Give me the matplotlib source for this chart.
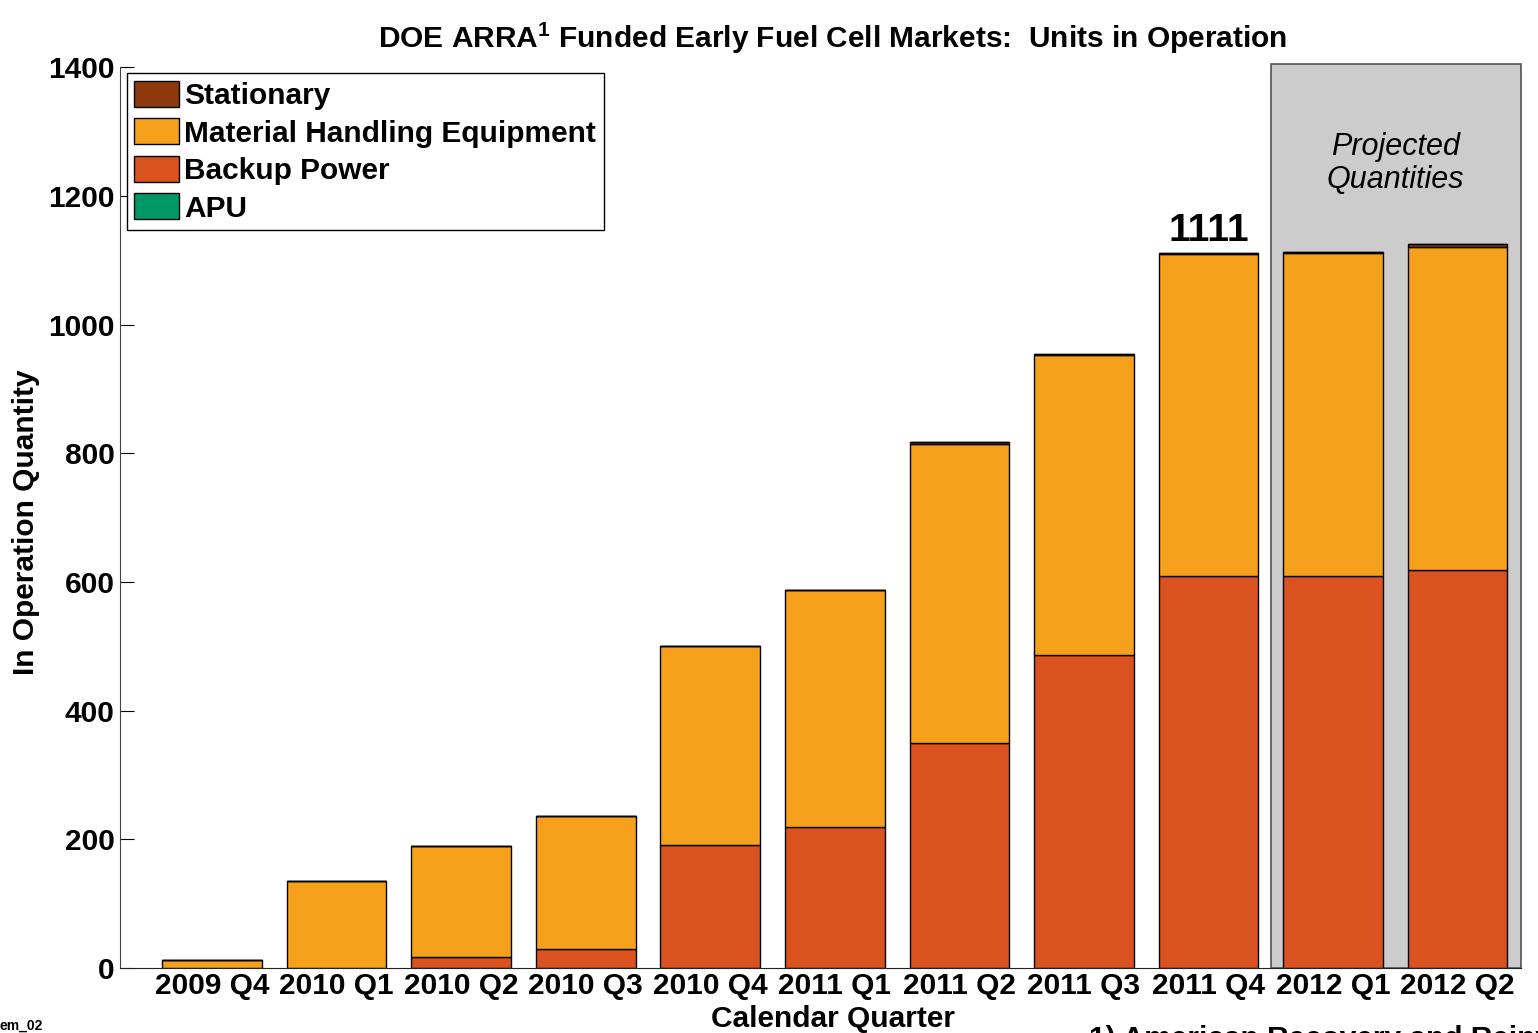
import numpy as np
import matplotlib.pyplot as plt
from matplotlib.patches import Patch, Rectangle

plt.rcParams['font.family'] = ['Liberation Sans', 'DejaVu Sans']
plt.rcParams['mathtext.fontset'] = 'custom'
plt.rcParams['mathtext.rm'] = 'Liberation Sans'
plt.rcParams['mathtext.bf'] = 'Liberation Sans:bold'

# Данные
quarters = ['2009 Q4', '2010 Q1', '2010 Q2', '2010 Q3', '2010 Q4', '2011 Q1',
            '2011 Q2', '2011 Q3', '2011 Q4', '2012 Q1', '2012 Q2']
backup = [0, 0, 17, 30, 191, 219, 350, 486, 609, 609, 618]
mhe = [13, 135, 173, 206, 309, 368, 465, 466, 500, 502, 502]
stationary = [0, 0, 0, 0, 0, 0, 2, 2, 2, 2, 5]
apu = [0, 0, 0, 0, 0, 0, 0, 0, 0, 0, 0]
highlight_idx = 8
highlight_label = '1111'

colors = {'Stationary': '#8c3a0c', 'Material Handling Equipment': '#f5a11c',
          'Backup Power': '#da5220', 'APU': '#009966'}

fs = 21.5

fig = plt.figure(figsize=(15.38, 10.33), dpi=100)
ax = fig.add_axes([0.078, 0.063, 0.911, 0.872])

x = np.arange(len(quarters))
w = 0.8

# Серая область прогноза
ax.add_patch(Rectangle((8.5, 0), 2.01, 1405, facecolor='#cccccc', edgecolor='#555555',
                       linewidth=1.2, zorder=0, clip_on=False))
ax.text(9.5, 1250, 'Projected\nQuantities', ha='center', va='center', fontsize=22,
        style='italic', linespacing=1.15)

bottom = np.zeros(len(quarters))
for name, vals in [('Backup Power', backup), ('Material Handling Equipment', mhe),
                   ('Stationary', stationary), ('APU', apu)]:
    vals = np.array(vals)
    ax.bar(x, vals, w, bottom=bottom, color=colors[name], edgecolor='black',
           linewidth=1, zorder=2)
    bottom += vals

ax.text(x[highlight_idx], bottom[highlight_idx] + 6, highlight_label, ha='center',
        va='bottom', fontsize=28, fontweight='bold')

ax.set_xlim(-0.74, 10.51)
ax.set_ylim(0, 1400)
ax.set_yticks(range(0, 1401, 200))
ax.set_xticks(x)
ax.set_xticklabels(quarters)
ax.tick_params(axis='x', length=0, labelsize=fs, pad=3)
ax.tick_params(axis='y', length=10, labelsize=fs, direction='in', pad=4)
for lbl in ax.get_xticklabels() + ax.get_yticklabels():
    lbl.set_fontweight('bold')
ax.spines['top'].set_visible(False)
ax.spines['right'].set_visible(False)
ax.spines['left'].set_color('#444444')
ax.spines['bottom'].set_color('#222222')

ax.set_xlabel('Calendar Quarter', fontsize=fs, fontweight='bold')
ax.xaxis.set_label_coords(0.509, -0.041)
ax.set_ylabel('In Operation Quantity', fontsize=fs, fontweight='bold')
ax.yaxis.set_label_coords(-0.057, 0.495)
ax.set_title(r'DOE ARRA$^{\mathbf{1}}$ Funded Early Fuel Cell Markets:  Units in Operation',
             fontsize=fs, fontweight='bold', pad=14, x=0.509)

handles = [Patch(facecolor=colors[n], edgecolor='black', label=n)
           for n in ['Stationary', 'Material Handling Equipment', 'Backup Power', 'APU']]
leg = ax.legend(handles=handles, loc='upper left', bbox_to_anchor=(0.005, 0.993),
                prop={'size': fs, 'weight': 'bold'}, fancybox=False, framealpha=1,
                edgecolor='black', handlelength=1.5, handleheight=0.95,
                handletextpad=0.17, labelspacing=0.28, borderpad=0.25, borderaxespad=0)

fig.text(0.0, 0.0, 'em_02', fontsize=10, fontweight='bold', va='bottom')
fig.text(0.708, -0.019, '1) American Recovery and Reinvestment Act', fontsize=fs,
         fontweight='bold', va='bottom')

fig.savefig('out.png', dpi=100)
